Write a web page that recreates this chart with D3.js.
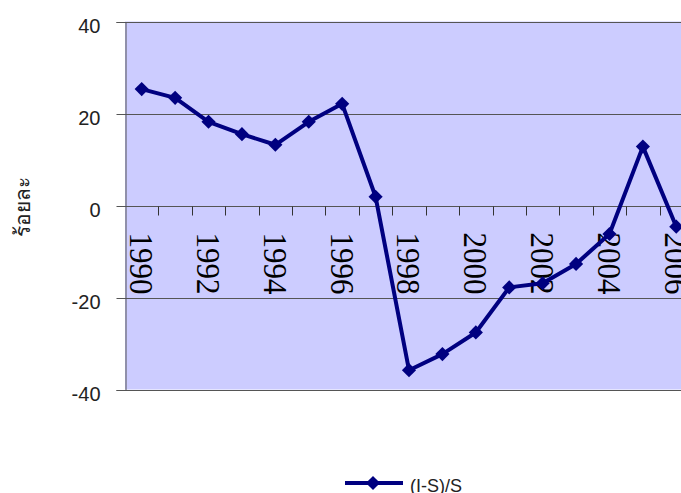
<!DOCTYPE html>
<html>
<head>
<meta charset="utf-8">
<script src="https://cdn.jsdelivr.net/npm/d3@7"></script>
<style>
  html, body { margin: 0; padding: 0; background: #fff; overflow: hidden; }
  svg { display: block; }
</style>
</head>
<body>
<svg id="chart" width="681" height="493"></svg>
<script>
// Investment–saving gap relative to saving, per cent
const years = [1990, 1991, 1992, 1993, 1994, 1995, 1996, 1997, 1998,
               1999, 2000, 2001, 2002, 2003, 2004, 2005, 2006];
const gapValues = [25.3, 23.4, 18.2, 15.5, 13.2, 18.2, 22.1, 1.9, -35.8,
                   -32.3, -27.6, -17.8, -16.9, -12.7, -6.2, 12.8, -4.6];
const yTicks = [-40, -20, 0, 20, 40];
const seriesName = "(I-S)/S";
const yTitle = "ร้อยละ";

const svg = d3.select("#chart");
const plot = { left: 125, top: 21.5, right: 693, bottom: 389.5 };

const x = d3.scaleBand()
  .domain(years)
  .range([plot.left, plot.right])
  .paddingInner(0).paddingOuter(0);

const y = d3.scaleLinear()
  .domain([-40, 40])
  .range([plot.bottom, plot.top]);

// plot background
svg.append("rect")
  .attr("x", plot.left).attr("y", plot.top)
  .attr("width", plot.right - plot.left)
  .attr("height", plot.bottom - plot.top)
  .attr("fill", "#ccccff");

// horizontal gridlines
svg.append("g")
  .selectAll("line")
  .data(yTicks)
  .join("line")
  .attr("x1", plot.left).attr("x2", plot.right)
  .attr("y1", d => Math.round(y(d)) + 0.5)
  .attr("y2", d => Math.round(y(d)) + 0.5)
  .attr("stroke", "#555")
  .attr("stroke-width", 1);

// value axis on the left
const yAxis = d3.axisLeft(y)
  .tickValues(yTicks)
  .tickSize(9)
  .tickPadding(0)
  .tickFormat(d => String(d));

const gy = svg.append("g")
  .attr("transform", `translate(${plot.left + 0.5},0.5)`)
  .call(yAxis);
gy.select(".domain").attr("stroke", "#555");
gy.selectAll(".tick line").attr("stroke", "#555");
gy.selectAll(".tick text")
  .attr("x", -25)
  .attr("dy", "0.35em")
  .attr("transform", "translate(0,3)")
  .attr("fill", "#222")
  .style("font-family", "'Liberation Sans', Arial, sans-serif")
  .style("font-size", "20px");

// category axis along the zero line
const zeroY = Math.round(y(0)) + 0.5;
const boundaries = years.slice(1).map(d => x(d));
svg.append("g")
  .selectAll("line")
  .data(boundaries)
  .join("line")
  .attr("x1", d => Math.round(d) + 0.5)
  .attr("x2", d => Math.round(d) + 0.5)
  .attr("y1", zeroY)
  .attr("y2", zeroY + 9)
  .attr("stroke", "#333")
  .attr("stroke-width", 1);

// year labels, every second category, turned to read downward
svg.append("g")
  .selectAll("text")
  .data(years.filter((d, i) => i % 2 === 0))
  .join("text")
  .attr("transform", d => `translate(${x(d) + x.bandwidth() / 2},${zeroY + 26}) rotate(90) scale(1,1.12)`)
  .attr("dominant-baseline", "central")
  .attr("text-anchor", "start")
  .attr("fill", "#000")
  .style("font-family", "'Liberation Serif', 'Times New Roman', serif")
  .style("font-size", "31px")
  .text(d => d);

// y-axis title
svg.append("text")
  .attr("transform", "translate(22,207) rotate(-90)")
  .attr("text-anchor", "middle")
  .attr("dominant-baseline", "central")
  .attr("fill", "#222")
  .style("font-family", "'Noto Sans', 'DejaVu Sans', sans-serif")
  .style("font-size", "21px")
  .text(yTitle);

// series line and markers
const cx = d => x(d) + x.bandwidth() / 2;
const line = d3.line()
  .x((d, i) => cx(years[i]))
  .y(d => y(d));

const diamond = d3.symbol().type(d3.symbolDiamond2).size(128);

svg.append("path")
  .datum(gapValues)
  .attr("d", line)
  .attr("fill", "none")
  .attr("stroke", "#000080")
  .attr("stroke-width", 4)
  .attr("stroke-linejoin", "round");

svg.append("g")
  .selectAll("path")
  .data(gapValues)
  .join("path")
  .attr("transform", (d, i) => `translate(${cx(years[i])},${y(d)})`)
  .attr("d", diamond)
  .attr("fill", "#000080");

// legend
const legend = svg.append("g").attr("transform", "translate(345,483)");
legend.append("line")
  .attr("x1", 0).attr("x2", 58)
  .attr("y1", 0).attr("y2", 0)
  .attr("stroke", "#000080").attr("stroke-width", 4);
legend.append("path")
  .attr("transform", "translate(28,0)")
  .attr("d", diamond)
  .attr("fill", "#000080");
legend.append("text")
  .attr("x", 65).attr("y", 0)
  .attr("dy", "0.5em")
  .attr("fill", "#222")
  .style("font-family", "'Liberation Sans', Arial, sans-serif")
  .style("font-size", "18px")
  .text(seriesName);
</script>
</body>
</html>
